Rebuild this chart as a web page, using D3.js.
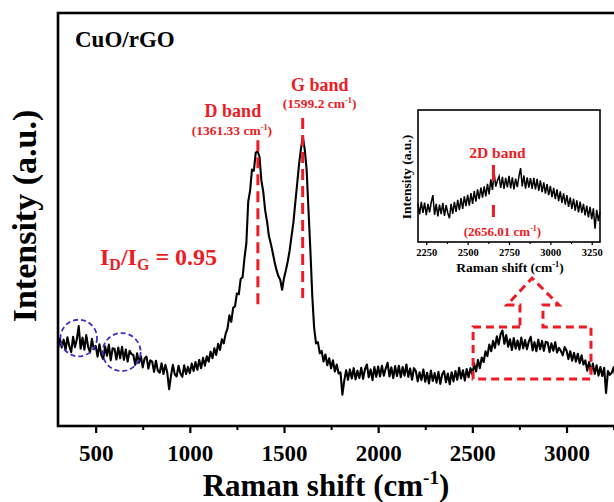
<!DOCTYPE html>
<html><head><meta charset="utf-8">
<script src="https://cdn.jsdelivr.net/npm/d3@7"></script>
<style>
body{margin:0;background:#fff}
svg{display:block}
text{font-family:"Liberation Serif","Times New Roman",serif;font-weight:bold}
</style>
</head><body><svg id="c" width="614" height="502"></svg>
<script>
// ---- data ----
const shift = d3.range(300, 3301, 10); // Raman shift sampling grid (cm-1)
const intensity = [
18.6,21.2,19.0,20.9,18.4,21.5,19.3,17.9,21.6,19.1,
21.0,24.2,18.7,21.4,18.5,22.0,19.2,17.8,21.1,18.6,
19.4,16.8,19.8,17.2,16.2,19.3,17.0,19.7,15.9,18.8,
18.7,16.1,19.0,16.4,19.2,16.0,18.5,15.6,18.2,17.4,
17.2,14.8,17.6,15.3,16.9,14.2,16.4,16.8,13.9,15.9,
15.6,13.1,15.8,13.4,12.9,15.2,12.6,14.8,13.0,8.9,
12.2,14.8,12.5,12.0,14.6,12.7,11.9,14.7,12.6,14.3,
12.8,15.1,13.3,15.5,13.6,16.0,14.0,16.5,14.6,16.9,
15.6,18.0,16.4,18.8,17.2,19.9,18.4,21.0,20.0,22.3,
23.6,26.8,25.2,28.6,29.0,32.1,31.9,35.6,36.0,40.6,
44.2,54.3,57.0,62.1,61.8,66.2,66.5,65.2,59.4,56.7,
52.2,49.5,46.0,44.1,42.0,39.7,37.8,36.3,35.4,33.0,
35.8,37.7,39.9,42.5,46.0,49.3,54.1,58.7,63.4,67.1,
70.0,67.0,62.2,52.3,42.6,31.6,23.8,20.0,20.3,17.6,
18.2,15.6,17.3,14.7,16.4,14.0,15.9,13.2,14.9,12.7,
13.0,7.6,11.0,13.5,11.2,13.7,11.5,14.0,11.3,13.4,
11.6,14.1,11.4,13.8,14.9,11.8,13.7,11.1,14.3,11.9,
14.4,12.0,14.6,12.2,13.9,15.3,12.0,14.2,11.6,14.5,
12.1,14.6,11.8,14.3,12.2,14.9,11.9,13.9,11.2,14.0,
13.3,10.8,13.0,11.1,13.7,10.7,12.9,10.3,13.4,10.9,
12.8,10.5,13.1,10.2,12.5,13.3,10.6,12.7,10.1,13.0,
10.8,13.3,11.2,14.1,11.5,13.5,11.0,13.8,11.8,14.0,
12.5,15.1,13.2,16.0,14.0,16.6,15.5,18.1,16.9,19.7,
18.1,20.6,18.9,21.7,19.7,22.2,23.1,19.9,22.0,19.2,
21.0,18.4,21.3,18.7,20.7,18.5,21.4,18.8,20.8,18.6,
20.5,21.6,18.3,20.3,18.1,20.9,18.6,20.6,18.2,20.4,
20.2,17.9,20.0,18.2,20.3,17.8,18.9,18.2,17.1,19.1,
18.3,16.2,18.1,15.8,17.7,15.6,17.5,15.2,17.1,14.9,
15.9,13.4,15.5,13.0,15.1,12.6,14.7,12.2,14.3,12.1,
14.1,8.0,13.3,12.4,12.9,14.2,11.7,12.6,12.3,13.0,
12.0];

const insetShift = d3.range(2200, 3301, 10);
const insetIntensity = [
29.0,21.0,30.5,22.0,29.8,20.3,28.9,22.4,30.1,35.5,
20.6,28.9,19.4,28.3,21.2,29.6,19.8,27.9,22.0,18.0,
28.9,21.4,30.4,22.8,32.0,24.1,33.2,25.0,34.6,27.2,
35.8,27.5,37.0,28.9,38.6,30.5,39.8,32.4,41.3,33.7,
42.2,34.6,44.0,36.1,47.4,39.5,52.5,42.0,46.6,49.7,
41.0,49.3,40.2,48.6,41.3,50.1,40.6,48.9,39.9,48.0,
41.5,49.7,56.0,42.1,50.4,40.5,49.0,41.2,48.4,40.3,
48.6,39.9,47.8,38.8,46.6,37.7,45.1,36.6,43.9,35.5,
42.5,34.0,41.0,32.4,39.8,30.9,38.4,29.6,36.9,28.4,
35.5,26.6,33.9,25.0,32.8,23.7,31.6,22.5,30.5,22.0,
28.9,20.1,27.6,18.7,26.7,17.4,25.5,10.0,24.3,15.8,
23.0];

const xTicks = [500, 1000, 1500, 2000, 2500, 3000];
const xMinorTicks = [750, 1250, 1750, 2250, 2750, 3250];
const insetTicks = [2250, 2500, 2750, 3000, 3250];
const insetMinorTicks = [2375, 2625, 2875, 3125];
const bandPositions = {D: 1361.33, G: 1599.2, D2: 2656.01};
const idigRatio = "0.95";

// ---- drawing ----
const RED = "#ee1b24", BLUE = "#3d31c8";
const svg = d3.select("#c");
const x = d3.scaleLinear().domain([300, 3300]).range([58, 623]);
const y = d3.scaleLinear().domain([0, 100]).range([426, 13]);

function supText(g, px, py, size, pre, sup, post, color, anchor) {
  const t = g.append("text").attr("x", px).attr("y", py).attr("font-size", size)
    .attr("fill", color).attr("text-anchor", anchor || "middle");
  t.append("tspan").text(pre);
  t.append("tspan").attr("font-size", size * 0.62).attr("dy", -size * 0.38).text(sup);
  t.append("tspan").attr("dy", size * 0.38).text(post);
  return t;
}

// main curve
const line = d3.line().x((d, i) => x(shift[i])).y(d => y(d));
svg.append("path").datum(intensity).attr("d", line)
  .attr("fill", "none").attr("stroke", "#000").attr("stroke-width", 2.1).attr("stroke-linejoin", "round");

// frame
svg.append("rect").attr("x", x(300)).attr("y", y(100))
  .attr("width", x(3300) - x(300)).attr("height", y(0) - y(100))
  .attr("fill", "none").attr("stroke", "#000").attr("stroke-width", 2.6);

// x axis
const gx = svg.append("g").attr("transform", `translate(0,${y(0)})`)
  .call(d3.axisBottom(x).tickValues(xTicks).tickSize(7).tickPadding(12).tickFormat(d3.format("d")));
gx.select(".domain").remove();
gx.selectAll("line").attr("stroke-width", 2.2);
gx.selectAll("text").attr("font-size", 23).attr("font-family", "Liberation Serif").attr("font-weight", "bold");
const gxm = svg.append("g").attr("transform", `translate(0,${y(0)})`)
  .call(d3.axisBottom(x).tickValues(xMinorTicks).tickSize(4).tickFormat(""));
gxm.select(".domain").remove();
gxm.selectAll("line").attr("stroke-width", 2);

// axis titles
supText(svg, 326, 496, 31, "Raman shift (cm", "-1", ")", "#000");
svg.append("text").attr("transform", "translate(36,216) rotate(-90)")
  .attr("text-anchor", "middle").attr("font-size", 34).text("Intensity (a.u.)");

// sample label
svg.append("text").attr("x", 75).attr("y", 47).attr("font-size", 23).text("CuO/rGO");

// band dashed lines
[[bandPositions.D, 69.2, 29.3], [bandPositions.G, 74.6, 31.0]].forEach(([b, v0, v1]) => {
  svg.append("line").attr("x1", x(b)).attr("x2", x(b)).attr("y1", y(v0)).attr("y2", y(v1))
    .attr("stroke", RED).attr("stroke-width", 3).attr("stroke-dasharray", "11,6");
});
svg.append("text").attr("x", x(bandPositions.D) - 25).attr("y", 117).attr("text-anchor", "middle")
  .attr("font-size", 18).attr("fill", RED).text("D band");
supText(svg, x(bandPositions.D) - 26, 135, 13.5, "(1361.33 cm", "-1", ")", RED);
svg.append("text").attr("x", x(bandPositions.G) + 17).attr("y", 91).attr("text-anchor", "middle")
  .attr("font-size", 18).attr("fill", RED).text("G band");
supText(svg, x(bandPositions.G) + 17, 108, 13.5, "(1599.2 cm", "-1", ")", RED);

// ID/IG
const r = svg.append("text").attr("x", 100).attr("y", 265).attr("font-size", 24).attr("fill", RED);
r.append("tspan").text("I");
r.append("tspan").attr("font-size", 16).attr("dy", 5).text("D");
r.append("tspan").attr("dy", -5).text("/I");
r.append("tspan").attr("font-size", 16).attr("dy", 5).text("G");
r.append("tspan").attr("dy", -5).text(" = " + idigRatio);

// blue dashed circles
[[410, 21.3, 18.3], [638, 17.9, 19]].forEach(([cx, cv, rr]) => {
  svg.append("circle").attr("cx", x(cx)).attr("cy", y(cv)).attr("r", rr)
    .attr("fill", "none").attr("stroke", BLUE).attr("stroke-width", 1.8).attr("stroke-dasharray", "5,3");
});

// red dashed box with arrow
const boxPts = [[2753, 24.0], [2504, 24.0], [2504, 11.4], [3130, 11.4], [3130, 24.0], [2875, 24.0],
  [2875, 29.3], [2960, 29.3], [2817, 35.8], [2684, 29.3], [2753, 29.3]];
svg.append("path").attr("d", d3.line().x(d => x(d[0])).y(d => y(d[1]))(boxPts) + "Z")
  .attr("fill", "none").attr("stroke", RED).attr("stroke-width", 3).attr("stroke-dasharray", "8,5");

// ---- inset ----
const ix = d3.scaleLinear().domain([2200, 3300]).range([418, 600]);
const iy = d3.scaleLinear().domain([0, 100]).range([242, 110]);
svg.append("rect").attr("x", ix(2200)).attr("y", iy(100)).attr("width", ix(3300) - ix(2200))
  .attr("height", iy(0) - iy(100)).attr("fill", "#fff");
svg.append("path").datum(insetIntensity)
  .attr("d", d3.line().x((d, i) => ix(insetShift[i])).y(d => iy(d)))
  .attr("fill", "none").attr("stroke", "#000").attr("stroke-width", 1.5);
svg.append("rect").attr("x", ix(2200)).attr("y", iy(100)).attr("width", ix(3300) - ix(2200))
  .attr("height", iy(0) - iy(100)).attr("fill", "none").attr("stroke", "#000").attr("stroke-width", 1.6);
const gi = svg.append("g").attr("transform", `translate(0,${iy(0)})`)
  .call(d3.axisBottom(ix).tickValues(insetTicks).tickSize(3).tickPadding(3.5).tickFormat(d3.format("d")));
gi.select(".domain").remove();
gi.selectAll("line").attr("stroke-width", 1.3);
gi.selectAll("text").attr("font-size", 10.5).attr("font-family", "Liberation Serif").attr("font-weight", "bold");
const gim = svg.append("g").attr("transform", `translate(0,${iy(0)})`)
  .call(d3.axisBottom(ix).tickValues(insetMinorTicks).tickSize(2).tickFormat(""));
gim.select(".domain").remove();
gim.selectAll("line").attr("stroke-width", 1.2);
supText(svg, 510, 272, 13.5, "Raman shift (cm", "-1", ")", "#000");
svg.append("text").attr("transform", "translate(411,177) rotate(-90)")
  .attr("text-anchor", "middle").attr("font-size", 13.5).text("Intensity (a.u.)");
svg.append("line").attr("x1", ix(bandPositions.D2)).attr("x2", ix(bandPositions.D2))
  .attr("y1", iy(58.3)).attr("y2", iy(15.9))
  .attr("stroke", RED).attr("stroke-width", 3).attr("stroke-dasharray", "16,24,12");
svg.append("text").attr("x", ix(bandPositions.D2) + 4).attr("y", 158).attr("text-anchor", "middle")
  .attr("font-size", 15.5).attr("fill", RED).text("2D band");
supText(svg, ix(bandPositions.D2) + 9, 236, 13, "(2656.01 cm", "-1", ")", RED);
</script></body></html>
